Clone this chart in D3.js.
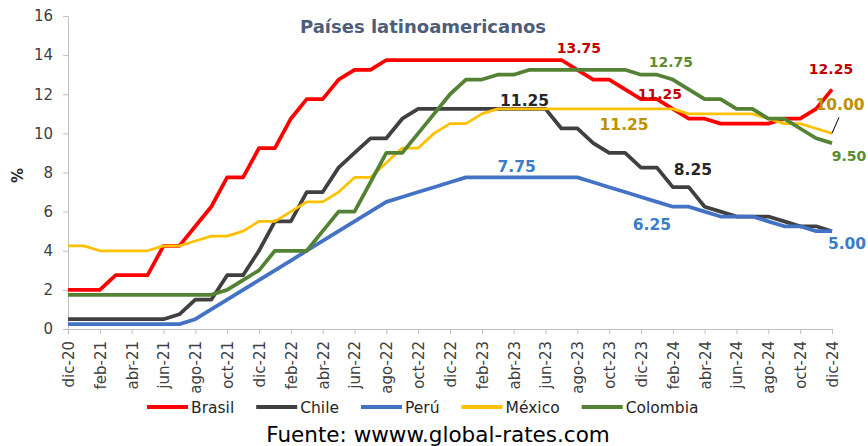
<!DOCTYPE html>
<html><head><meta charset="utf-8">
<script src="https://cdn.jsdelivr.net/npm/d3@7"></script>
<style>
body{margin:0;background:#fff}
svg{display:block}
text{font-family:"DejaVu Sans",Verdana,sans-serif}
</style>
</head><body>
<svg id="c" width="868" height="446"></svg>
<script>
// ---------- DATA ----------
const months = ["dic-20","ene-21","feb-21","mar-21","abr-21","may-21","jun-21","jul-21","ago-21","sep-21","oct-21","nov-21",
  "dic-21","ene-22","feb-22","mar-22","abr-22","may-22","jun-22","jul-22","ago-22","sep-22","oct-22","nov-22",
  "dic-22","ene-23","feb-23","mar-23","abr-23","may-23","jun-23","jul-23","ago-23","sep-23","oct-23","nov-23",
  "dic-23","ene-24","feb-24","mar-24","abr-24","may-24","jun-24","jul-24","ago-24","sep-24","oct-24","nov-24","dic-24"];
const xTickLabels = ["dic-20","feb-21","abr-21","jun-21","ago-21","oct-21","dic-21","feb-22","abr-22","jun-22","ago-22","oct-22",
  "dic-22","feb-23","abr-23","jun-23","ago-23","oct-23","dic-23","feb-24","abr-24","jun-24","ago-24","oct-24","dic-24"];
const yTicks = [0,2,4,6,8,10,12,14,16];

const brasil = [2.00,2.00,2.00,2.75,2.75,2.75,4.25,4.25,5.25,6.25,7.75,7.75,
  9.25,9.25,10.75,11.75,11.75,12.75,13.25,13.25,13.75,13.75,13.75,13.75,
  13.75,13.75,13.75,13.75,13.75,13.75,13.75,13.75,13.25,12.75,12.75,12.25,
  11.75,11.75,11.25,10.75,10.75,10.50,10.50,10.50,10.50,10.75,10.75,11.25,12.25];
const chile = [0.50,0.50,0.50,0.50,0.50,0.50,0.50,0.75,1.50,1.50,2.75,2.75,
  4.00,5.50,5.50,7.00,7.00,8.25,9.00,9.75,9.75,10.75,11.25,11.25,
  11.25,11.25,11.25,11.25,11.25,11.25,11.25,10.25,10.25,9.50,9.00,9.00,
  8.25,8.25,7.25,7.25,6.25,6.00,5.75,5.75,5.75,5.50,5.25,5.25,5.00];
const peru = [0.25,0.25,0.25,0.25,0.25,0.25,0.25,0.25,0.50,1.00,1.50,2.00,
  2.50,3.00,3.50,4.00,4.50,5.00,5.50,6.00,6.50,6.75,7.00,7.25,
  7.50,7.75,7.75,7.75,7.75,7.75,7.75,7.75,7.75,7.50,7.25,7.00,
  6.75,6.50,6.25,6.25,6.00,5.75,5.75,5.75,5.50,5.25,5.25,5.00,5.00];
const mexico = [4.25,4.25,4.00,4.00,4.00,4.00,4.25,4.25,4.50,4.75,4.75,5.00,
  5.50,5.50,6.00,6.50,6.50,7.00,7.75,7.75,8.50,9.25,9.25,10.00,
  10.50,10.50,11.00,11.25,11.25,11.25,11.25,11.25,11.25,11.25,11.25,11.25,
  11.25,11.25,11.25,11.00,11.00,11.00,11.00,11.00,10.75,10.50,10.50,10.25,10.00];
const colombia = [1.75,1.75,1.75,1.75,1.75,1.75,1.75,1.75,1.75,1.75,2.00,2.50,
  3.00,4.00,4.00,4.00,5.00,6.00,6.00,7.50,9.00,9.00,10.00,11.00,
  12.00,12.75,12.75,13.00,13.00,13.25,13.25,13.25,13.25,13.25,13.25,13.25,
  13.00,13.00,12.75,12.25,11.75,11.75,11.25,11.25,10.75,10.75,10.25,9.75,9.50];

const seriesNames = ["Brasil","Chile","Perú","México","Colombia"];
const seriesValues = [brasil, chile, peru, mexico, colombia];

// annotations: series index, month, text
const annotations = [
  {s:0, m:"jul-23", t:"13.75", dx:17.5, dy:-6.8},
  {s:4, m:"feb-24", t:"12.75", dx:-2, dy:-12.6},
  {s:0, m:"feb-24", t:"11.25", dx:-13, dy:-10},
  {s:0, m:"dic-24", t:"12.25", dx:-1, dy:-15.4},
  {s:3, m:"dic-24", t:"10.00", dx:8, dy:-23.4},
  {s:4, m:"dic-24", t:"9.50", dx:17, dy:17.8},
  {s:3, m:"nov-23", t:"11.25", dx:-1, dy:21},
  {s:1, m:"may-23", t:"11.25", dx:-5, dy:-3},
  {s:1, m:"ene-24", t:"8.25", dx:36, dy:7.4},
  {s:2, m:"abr-23", t:"7.75", dx:3, dy:-5.4},
  {s:2, m:"feb-24", t:"6.25", dx:-21, dy:23.3},
  {s:2, m:"dic-24", t:"5.00", dx:15, dy:17.8}
];

// ---------- STYLE ----------
const lineColors = ["#ff0000","#404040","#4472c4","#ffc000","#548235"];
const lineWidths = [3.75,3.75,3.75,2.75,3.75];
const labelColors = ["#c00000","#262626","#3a7dc9","#bf9000","#5b8c32"];
const labelSizes = [14,15.5,15.5,15.5,14];

const W = 868, H = 446;
const m = {top:16, right:36, bottom:117, left:68};
const svg = d3.select("#c");

const x = d3.scalePoint().domain(months).range([m.left, W - m.right]);
const y = d3.scaleLinear().domain([0,16]).range([H - m.bottom, m.top]);

// Y axis
const gy = svg.append("g").attr("transform", `translate(${m.left},0)`)
  .call(d3.axisLeft(y).tickValues(yTicks).tickSize(5).tickSizeOuter(0).tickPadding(10).tickFormat(d3.format("d")));
gy.select(".domain").attr("stroke","#bfbfbf");
gy.selectAll(".tick line").attr("stroke","#bfbfbf");
gy.selectAll(".tick text").attr("fill","#404040").style("font-size","15px");

// X axis
const gx = svg.append("g").attr("transform", `translate(0,${H - m.bottom})`)
  .call(d3.axisBottom(x).tickValues(xTickLabels).tickSize(5).tickSizeOuter(0));
gx.select(".domain").attr("stroke","#bfbfbf");
gx.selectAll(".tick line").attr("stroke","#bfbfbf");
gx.selectAll(".tick text").attr("fill","#404040").style("font-size","15px")
  .attr("transform","rotate(-90)").attr("x",-12).attr("y",0).attr("dy","0.36em")
  .style("text-anchor","end");

// Y title
svg.append("text").attr("transform",`translate(23,${(m.top + H - m.bottom)/2 + 3}) rotate(-90)`)
  .attr("text-anchor","middle").style("font-size","15px").style("font-weight","bold")
  .attr("fill","#262626").text("%");

// Title
svg.append("text").attr("x",423).attr("y",33).attr("text-anchor","middle")
  .style("font-size","18px").style("font-weight","bold").attr("fill","#4e5d7a")
  .text("Países latinoamericanos");

// Lines
const line = d3.line().x((d,i) => x(months[i])).y(d => y(d));
seriesValues.forEach((vals, k) => {
  svg.append("path").datum(vals).attr("d", line)
    .attr("fill","none").attr("stroke", lineColors[k]).attr("stroke-width", lineWidths[k])
    .attr("stroke-linejoin","round").attr("stroke-linecap","butt");
});

// leader line for México label
{
  const i = months.indexOf("dic-24");
  const px = x("dic-24"), py = y(mexico[i]);
  svg.append("line").attr("x1",px).attr("y1",py).attr("x2",px+7).attr("y2",py-16)
    .attr("stroke","#000").attr("stroke-width",1);
}

// Annotations
annotations.forEach(a => {
  const i = months.indexOf(a.m);
  const v = seriesValues[a.s][i];
  svg.append("text").attr("x", x(a.m) + a.dx).attr("y", y(v) + a.dy)
    .attr("text-anchor","middle").style("font-weight","bold")
    .style("font-size", labelSizes[a.s] + "px").attr("fill", labelColors[a.s]).text(a.t);
});

// Legend
const lg = svg.append("g").attr("transform","translate(147,407)");
let cx = 0;
seriesNames.forEach((n,k) => {
  lg.append("line").attr("x1",cx).attr("x2",cx+41).attr("y1",0).attr("y2",0)
    .attr("stroke",lineColors[k]).attr("stroke-width",4);
  const t = lg.append("text").attr("x",cx+44).attr("y",5.5).style("font-size","15.5px")
    .attr("fill","#262626").text(n);
  cx += 44 + t.node().getComputedTextLength() + 22;
});

// Source
svg.append("text").attr("x",438).attr("y",442).attr("text-anchor","middle")
  .style("font-size","21.5px").attr("fill","#000").text("Fuente: wwww.global-rates.com");
</script>
</body></html>
